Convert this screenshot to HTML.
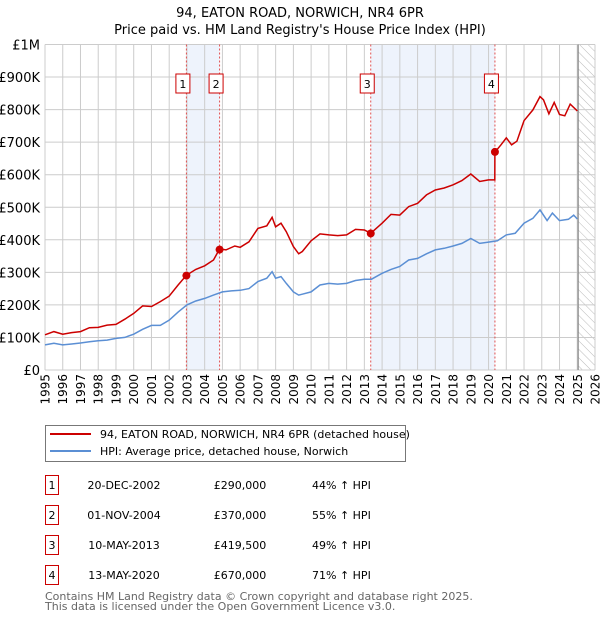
<!DOCTYPE html>
<html><head><meta charset="utf-8"><style>
body{margin:0;background:#fff;font-family:"DejaVu Sans","Liberation Sans",sans-serif;}
#wrap{position:relative;width:600px;height:620px;overflow:hidden}
svg text{font-family:"DejaVu Sans","Liberation Sans",sans-serif}
</style></head><body><div id="wrap">
<svg id="svg" width="600" height="620"></svg>
</div>
<script>
const hpiYears=[1995,1995.5,1996,1996.5,1997,1997.5,1998,1998.5,1999,1999.5,2000,2000.5,2001,2001.5,2002,2002.5,2003,2003.5,2004,2004.5,2005,2005.5,2006,2006.5,2007,2007.5,2007.8,2008,2008.3,2008.6,2009,2009.3,2009.5,2010,2010.5,2011,2011.5,2012,2012.5,2013,2013.4,2014,2014.5,2015,2015.5,2016,2016.5,2017,2017.5,2018,2018.5,2019,2019.5,2020,2020.5,2021,2021.5,2022,2022.5,2022.9,2023.3,2023.6,2024,2024.5,2024.8,2025];
const hpiValues=[77,82,77,80,83,87,90,92,97,100,110,125,137,137,153,178,200,212,220,230,240,243,245,250,272,282,302,282,287,266,240,230,233,240,261,266,264,266,275,279,279,297,309,318,338,343,357,369,374,381,389,404,389,393,397,415,420,451,466,492,459,482,459,463,476,464];
const propYears=[1995,1995.5,1996,1996.5,1997,1997.5,1998,1998.5,1999,1999.5,2000,2000.5,2001,2001.5,2002,2002.5,2002.97,2003.5,2004,2004.5,2004.84,2005.2,2005.7,2006,2006.5,2007,2007.5,2007.8,2008,2008.3,2008.6,2009,2009.3,2009.5,2010,2010.5,2011,2011.5,2012,2012.5,2013,2013.36,2014,2014.5,2015,2015.5,2016,2016.5,2017,2017.5,2018,2018.5,2019,2019.5,2020,2020.35,2020.36,2020.7,2021,2021.3,2021.6,2022,2022.5,2022.9,2023.1,2023.4,2023.7,2024,2024.3,2024.6,2025];
const propValues=[108,118,110,115,118,130,131,138,140,156,174,197,195,210,227,261,291,309,320,338,372,369,381,377,394,435,443,469,440,451,425,379,357,364,397,418,415,413,415,432,430,420,451,478,476,502,512,538,553,559,569,582,602,579,584,584,669,692,713,692,703,766,799,840,830,787,822,785,781,817,796];
const saleYears=[2002.97,2004.84,2013.36,2020.36];
const saleValues=[290,370,419.5,670];
const saleLabels=["1","2","3","4"];
const saleDates=["20-DEC-2002","01-NOV-2004","10-MAY-2013","13-MAY-2020"];
const salePrices=["£290,000","£370,000","£419,500","£670,000"];
const saleHpi=["44% ↑ HPI","55% ↑ HPI","49% ↑ HPI","71% ↑ HPI"];
const yTicks=[0,100,200,300,400,500,600,700,800,900,1000];
const yTickLabels=["£0","£100K","£200K","£300K","£400K","£500K","£600K","£700K","£800K","£900K","£1M"];
const xTicks=[1995,1996,1997,1998,1999,2000,2001,2002,2003,2004,2005,2006,2007,2008,2009,2010,2011,2012,2013,2014,2015,2016,2017,2018,2019,2020,2021,2022,2023,2024,2025,2026];

const L=45,R=595,T=44.5,B=370,X0=1995,X1=2026;
const X=v=>L+(v-X0)/(X1-X0)*(R-L);
const Y=v=>B-v/1000*(B-T);
const svg=document.getElementById('svg');
const NS='http://www.w3.org/2000/svg';
function mk(tag,attrs,parent){const e=document.createElementNS(NS,tag);for(const k in attrs)e.setAttribute(k,attrs[k]);(parent||svg).appendChild(e);return e;}

// title
let t=mk('text',{x:300,y:17,'text-anchor':'middle','font-size':13,fill:'#000'});t.textContent='94, EATON ROAD, NORWICH, NR4 6PR';


t=mk('text',{x:300,y:34,'text-anchor':'middle','font-size':13,fill:'#000'});t.textContent="Price paid vs. HM Land Registry's House Price Index (HPI)";



// shaded periods
[[0,1],[2,3]].forEach(p=>{const r=mk('rect',{x:X(saleYears[p[0]]),y:T,width:X(saleYears[p[1]])-X(saleYears[p[0]]),height:B-T,fill:'#eef3fc'});

});
// hatch
const defs=mk('defs',{});
const pat=mk('pattern',{id:'h',width:6,height:6,patternUnits:'userSpaceOnUse',patternTransform:'rotate(-45)'},defs);
mk('line',{x1:0,y1:0,x2:0,y2:6,stroke:'#bbb','stroke-width':1},pat);
const hr=mk('rect',{x:X(2025.05),y:T,width:R-X(2025.05),height:B-T,fill:'url(#h)'});



// grid
yTicks.forEach((v,i)=>{const l=mk('line',{x1:L,x2:R,y1:Y(v),y2:Y(v),stroke:'#ccc','stroke-width':1});


const tx=mk('text',{x:40,y:Y(v)+5,'text-anchor':'end','font-size':13,fill:'#000'});tx.textContent=yTickLabels[i];

});
xTicks.forEach(v=>{const l=mk('line',{x1:X(v),x2:X(v),y1:T,y2:B,stroke:'#ccc','stroke-width':1});


const tx=mk('text',{x:0,y:0,'text-anchor':'end','font-size':12,fill:'#000',transform:`translate(${X(v)+4.5},374) rotate(-90)`});tx.textContent=v;

});
const nl=mk('line',{x1:X(2025.05),x2:X(2025.05),y1:T,y2:B,stroke:'#888','stroke-width':1.2});



// sale markers lines & boxes
saleYears.forEach((v,i)=>{const l=mk('line',{x1:X(v),x2:X(v),y1:T,y2:B,stroke:'#e05050','stroke-width':1,'stroke-dasharray':'2,2'});


const bx=mk('rect',{x:X(v)-10.5,y:74,width:14,height:19,fill:'#fff',stroke:'#c00','stroke-width':1});


const tx=mk('text',{x:X(v)-3.5,y:88,'text-anchor':'middle','font-size':11,fill:'#000'});tx.textContent=saleLabels[i];

});

// lines
const hp=mk('path',{d:hpiYears.map((y,i)=>(i?'L':'M')+X(y).toFixed(1)+','+Y(hpiValues[i]).toFixed(1)).join(''),fill:'none',stroke:'#5b8fd4','stroke-width':1.5});


const pp=mk('path',{d:propYears.map((y,i)=>(i?'L':'M')+X(y).toFixed(1)+','+Y(propValues[i]).toFixed(1)).join(''),fill:'none',stroke:'#cc0000','stroke-width':1.5});


saleYears.forEach((v,i)=>{const c=mk('circle',{cx:X(v),cy:Y(saleValues[i]),r:4,fill:'#cc0000'});

});

// legend
const lg=mk('g',{});


mk('rect',{x:45.5,y:425.5,width:360,height:36,fill:'#fff',stroke:'#777','stroke-width':1},lg);
mk('line',{x1:50,x2:91,y1:434,y2:434,stroke:'#cc0000','stroke-width':2},lg);
mk('line',{x1:50,x2:91,y1:451,y2:451,stroke:'#5b8fd4','stroke-width':2},lg);
t=mk('text',{x:100,y:438,'font-size':11,fill:'#000'},lg);t.textContent='94, EATON ROAD, NORWICH, NR4 6PR (detached house)';


t=mk('text',{x:100,y:455,'font-size':11,fill:'#000'},lg);t.textContent='HPI: Average price, detached house, Norwich';



// table
saleLabels.forEach((s,i)=>{const y=475+i*30;
const b=mk('rect',{x:45.5,y:y+0.5,width:13,height:19,fill:'#fff',stroke:'#c00','stroke-width':1});


const cells=[[52,s,'middle'],[124,saleDates[i],'middle'],[240,salePrices[i],'middle'],[312,saleHpi[i],'start']];
cells.forEach(c=>{const tx=mk('text',{x:c[0],y:y+14,'text-anchor':c[2],'font-size':11,fill:'#000'});tx.textContent=c[1];

});});
t=mk('text',{x:45,y:600,'font-size':11,fill:'#666'});t.textContent='Contains HM Land Registry data © Crown copyright and database right 2025.';


t=mk('text',{x:45,y:610,'font-size':11,fill:'#666'});t.textContent='This data is licensed under the Open Government Licence v3.0.';


</script></body></html>
